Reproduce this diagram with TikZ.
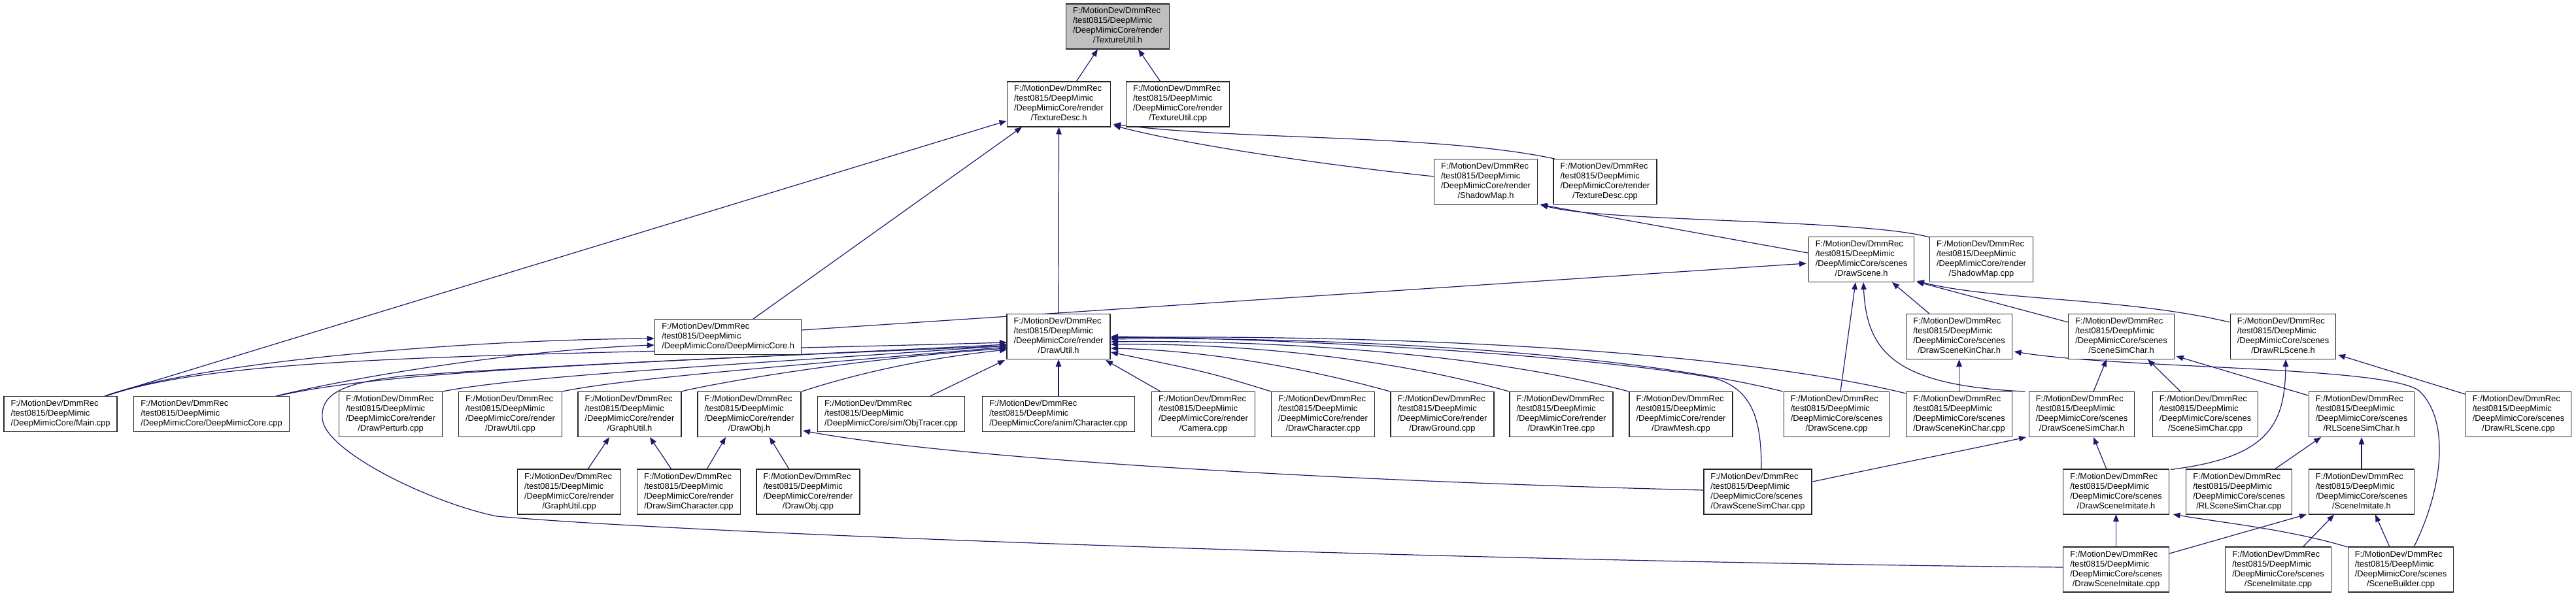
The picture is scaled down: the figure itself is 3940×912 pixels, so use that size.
\documentclass[tikz,border=0pt]{standalone}
\usepackage{fontspec}
\setmainfont{Liberation Sans}
\usetikzlibrary{arrows.meta,calc}
\pgfdeclarelayer{bg}
\pgfsetlayers{bg,main}
\definecolor{edgecol}{RGB}{25,25,112}
\definecolor{rootfill}{RGB}{191,191,191}
\newcommand{\lblf}[2]{\begin{tabular}{@{}l@{}}F:/MotionDev/DmmRec\\/test0815/DeepMimic\\#1\\\multicolumn{1}{@{}c@{}}{#2}\end{tabular}}
\newcommand{\lblt}[1]{\begin{tabular}{@{}l@{}}F:/MotionDev/DmmRec\\/test0815/DeepMimic\\#1\end{tabular}}
\tikzset{
  nd/.style={draw=black!85, line width=1.3pt, fill=white, inner xsep=10.5pt, inner ysep=4.5pt,
    font=\fontsize{12.9}{15}\selectfont},
  rootnd/.style={nd, fill=rootfill},
  edge/.style={draw=edgecol, line width=1.2pt, -{Triangle[length=11pt,width=8.5pt]}}
}
\begin{document}
\begin{tikzpicture}[x=1pt,y=-1pt]
\useasboundingbox (0,0) rectangle (3940,912);
% row 0-3
\node[rootnd] (root) at (1709.5,40.5) {\lblf{/DeepMimicCore/render}{/TextureUtil.h}};
\node[nd] (TDh) at (1619.5,159.5) {\lblf{/DeepMimicCore/render}{/TextureDesc.h}};
\node[nd] (TUcpp) at (1801.5,159.5) {\lblf{/DeepMimicCore/render}{/TextureUtil.cpp}};
\node[nd] (SMh) at (2272.5,278) {\lblf{/DeepMimicCore/render}{/ShadowMap.h}};
\node[nd] (TDcpp) at (2455,278) {\lblf{/DeepMimicCore/render}{/TextureDesc.cpp}};
\node[nd] (DSh) at (2847,397) {\lblf{/DeepMimicCore/scenes}{/DrawScene.h}};
\node[nd] (SMcpp) at (3030.5,397) {\lblf{/DeepMimicCore/render}{/ShadowMap.cpp}};
% row 4
\node[nd] (DMCh) at (1113.75,515.5) {\lblt{/DeepMimicCore/DeepMimicCore.h}};
\node[nd] (DUh) at (1619,515) {\lblf{/DeepMimicCore/render}{/DrawUtil.h}};
\node[nd] (DSKCh) at (2996.5,515) {\lblf{/DeepMimicCore/scenes}{/DrawSceneKinChar.h}};
\node[nd] (SSCh) at (3244.5,515) {\lblf{/DeepMimicCore/scenes}{/SceneSimChar.h}};
\node[nd] (DRLSh) at (3492,515) {\lblf{/DeepMimicCore/scenes}{/DrawRLScene.h}};
% row 5
\node[nd] (Maincpp) at (92.5,633.5) {\lblt{/DeepMimicCore/Main.cpp}};
\node[nd] (DMCcpp) at (323.5,633.5) {\lblt{/DeepMimicCore/DeepMimicCore.cpp}};
\node[nd] (DPcpp) at (597.5,634) {\lblf{/DeepMimicCore/render}{/DrawPerturb.cpp}};
\node[nd] (DUcpp) at (780.5,634) {\lblf{/DeepMimicCore/render}{/DrawUtil.cpp}};
\node[nd] (GUh) at (963,634) {\lblf{/DeepMimicCore/render}{/GraphUtil.h}};
\node[nd] (DOh) at (1146,634) {\lblf{/DeepMimicCore/render}{/DrawObj.h}};
\node[nd] (OTcpp) at (1363,633.5) {\lblt{/DeepMimicCore/sim/ObjTracer.cpp}};
\node[nd] (Charcpp) at (1619,633.5) {\lblt{/DeepMimicCore/anim/Character.cpp}};
\node[nd] (Camcpp) at (1840.5,634) {\lblf{/DeepMimicCore/render}{/Camera.cpp}};
\node[nd] (DCcpp) at (2023.5,634) {\lblf{/DeepMimicCore/render}{/DrawCharacter.cpp}};
\node[nd] (DGcpp) at (2206,634) {\lblf{/DeepMimicCore/render}{/DrawGround.cpp}};
\node[nd] (DKTcpp) at (2388,634) {\lblf{/DeepMimicCore/render}{/DrawKinTree.cpp}};
\node[nd] (DMcpp) at (2571,634) {\lblf{/DeepMimicCore/render}{/DrawMesh.cpp}};
\node[nd] (DScpp) at (2809,634) {\lblf{/DeepMimicCore/scenes}{/DrawScene.cpp}};
\node[nd] (DSKCcpp) at (2996.5,634) {\lblf{/DeepMimicCore/scenes}{/DrawSceneKinChar.cpp}};
\node[nd] (DSSCh) at (3184,634) {\lblf{/DeepMimicCore/scenes}{/DrawSceneSimChar.h}};
\node[nd] (SSCcpp) at (3373,634) {\lblf{/DeepMimicCore/scenes}{/SceneSimChar.cpp}};
\node[nd] (RLSSCh) at (3612,634) {\lblf{/DeepMimicCore/scenes}{/RLSceneSimChar.h}};
\node[nd] (DRLScpp) at (3852,634) {\lblf{/DeepMimicCore/scenes}{/DrawRLScene.cpp}};
% row 6
\node[nd] (GUcpp) at (870.5,752.5) {\lblf{/DeepMimicCore/render}{/GraphUtil.cpp}};
\node[nd] (DSimCcpp) at (1053.5,752.5) {\lblf{/DeepMimicCore/render}{/DrawSimCharacter.cpp}};
\node[nd] (DOcpp) at (1236,752.5) {\lblf{/DeepMimicCore/render}{/DrawObj.cpp}};
\node[nd] (DSSCcpp) at (2688.5,752.5) {\lblf{/DeepMimicCore/scenes}{/DrawSceneSimChar.cpp}};
\node[nd] (DSIh) at (3236.5,752.5) {\lblf{/DeepMimicCore/scenes}{/DrawSceneImitate.h}};
\node[nd] (RLSSCcpp) at (3424.5,752.5) {\lblf{/DeepMimicCore/scenes}{/RLSceneSimChar.cpp}};
\node[nd] (SIh) at (3612,752.5) {\lblf{/DeepMimicCore/scenes}{/SceneImitate.h}};
% row 7
\node[nd] (DSIcpp) at (3236.5,871.5) {\lblf{/DeepMimicCore/scenes}{/DrawSceneImitate.cpp}};
\node[nd] (SIcpp) at (3484.5,871.5) {\lblf{/DeepMimicCore/scenes}{/SceneImitate.cpp}};
\node[nd] (SBcpp) at (3672,871.5) {\lblf{/DeepMimicCore/scenes}{/SceneBuilder.cpp}};

\begin{pgfonlayer}{bg}
% to TextureUtil.h
\draw[edge] ($(TDh)+(26.5,-34.5)$) -- ($(root)+(-30.5,35)$);
\draw[edge] ($(TUcpp)+(-26.5,-34.5)$) -- ($(root)+(31.5,35)$);
% to TextureDesc.h
\draw[edge] ($(SMh)+(-79.5,-8)$) .. controls (2050,255) and (1830,225) .. ($(TDh)+(83.5,32.5)$);
\draw[edge] ($(TDcpp)+(-77,-35)$) .. controls (2200,205) and (1900,215) .. ($(TDh)+(83.5,30.5)$);
\draw[edge] ($(DMCh)+(38.25,-27.5)$) -- ($(TDh)+(-56.5,35)$);
\draw[edge] ($(DUh)+(0,-35)$) -- ($(TDh)+(0,35)$);
\draw[edge] ($(Maincpp)+(67.5,-27.5)$) -- ($(TDh)+(-80,25.5)$);
% to ShadowMap.h
\draw[edge] ($(DSh)+(-82,-10)$) -- ($(SMh)+(82.5,35)$);
\draw[edge] ($(SMcpp)+(-79.5,-34)$) .. controls (2850,335) and (2450,340) .. ($(SMh)+(84,35)$);
% to DrawScene.h
\draw[edge] ($(DMCh)+(112.75,-10.5)$) -- ($(DSh)+(-84,6)$);
\draw[edge] ($(DScpp)+(6,-35)$) -- ($(DSh)+(-9,35)$);
\draw[edge] ($(DSSCh)+(-87,-35)$) .. controls (2900,590) and (2855,540) .. ($(DSh)+(3,35)$);
\draw[edge] ($(DSKCh)+(-45.5,-35)$) -- ($(DSh)+(47,35)$);
\draw[edge] ($(SSCh)+(-81.5,-22)$) -- ($(DSh)+(84,34)$);
\draw[edge] ($(DRLSh)+(-82,-22)$) .. controls (3250,455) and (3050,460) .. ($(DSh)+(85,33)$);
% to DeepMimicCore.h
\draw[edge] ($(Maincpp)+(68,-27.5)$) .. controls (300,555) and (700,520) .. ($(DMCh)+(-113,2.5)$);
\draw[edge] ($(DMCcpp)+(98.5,-27.5)$) .. controls (550,575) and (800,535) .. ($(DMCh)+(-113,12.5)$);
% to DrawUtil.h, left side
\draw[edge] ($(Maincpp)+(70,-27.5)$) .. controls (350,540) and (800,545) .. ($(DUh)+(-79,9)$);
\draw[edge] ($(DMCcpp)+(101,-27.5)$) .. controls (600,565) and (1000,555) .. ($(DUh)+(-79,12)$);
\draw[edge] ($(DPcpp)+(79.5,-35)$) .. controls (800,575) and (1100,560) .. ($(DUh)+(-79,14)$);
\draw[edge] ($(DUcpp)+(79.5,-35)$) .. controls (950,580) and (1200,560) .. ($(DUh)+(-79,16)$);
\draw[edge] ($(GUh)+(79,-35)$) .. controls (1100,585) and (1300,550) .. ($(DUh)+(-79,18)$);
\draw[edge] ($(DOh)+(80,-35)$) .. controls (1300,575) and (1400,550) .. ($(DUh)+(-79,20)$);
\draw[edge] ($(DSIcpp)+(-81.5,-3.5)$) .. controls (2300,860) and (1100,820) .. (760,790)
   .. controls (660,770) and (495,690) .. (493,640)
   .. controls (490,600) and (530,585) .. (620,575)
   .. controls (900,555) and (1300,540) .. ($(DUh)+(-79,14)$);
% to DrawUtil.h, bottom
\draw[edge] ($(OTcpp)+(60,-27.5)$) -- ($(DUh)+(-82,36)$);
\draw[edge] ($(Charcpp)+(0,-27.5)$) -- ($(DUh)+(0,35)$);
\draw[edge] ($(Camcpp)+(-65.5,-35)$) -- ($(DUh)+(72,36)$);
% to DrawUtil.h, right side
\draw[edge] ($(DCcpp)+(-79.5,-35)$) .. controls (1850,570) .. ($(DUh)+(80,24)$);
\draw[edge] ($(DGcpp)+(-80,-35)$) .. controls (1950,550) and (1800,535) .. ($(DUh)+(80,18)$);
\draw[edge] ($(DKTcpp)+(-80,-35)$) .. controls (2100,540) and (1850,525) .. ($(DUh)+(80,12)$);
\draw[edge] ($(DMcpp)+(-80,-35)$) .. controls (2250,535) and (1900,520) .. ($(DUh)+(80,8)$);
\draw[edge] ($(DScpp)+(-82,-35)$) .. controls (2450,530) and (1950,515) .. ($(DUh)+(80,4)$);
\draw[edge] ($(DSKCcpp)+(-81.5,-32)$) .. controls (2600,525) and (2000,512) .. ($(DUh)+(80,2)$);
\draw[edge] ($(DSSCcpp)+(5.5,-34.5)$) .. controls (2694,640) and (2680,595) .. (2620,578)
   .. controls (2400,540) and (1950,518) .. ($(DUh)+(80,0)$);
% GraphUtil.h / DrawObj.h
\draw[edge] ($(GUcpp)+(28.5,-34.5)$) -- ($(GUh)+(-31,35)$);
\draw[edge] ($(DSimCcpp)+(-26.5,-34.5)$) -- ($(GUh)+(31,35)$);
\draw[edge] ($(DSimCcpp)+(27.5,-34.5)$) -- ($(DOh)+(-36,35)$);
\draw[edge] ($(DOcpp)+(-29,-34.5)$) -- ($(DOh)+(31,35)$);
\draw[edge] ($(DSSCcpp)+(-83.5,-2.5)$) .. controls (2000,735) and (1450,700) .. ($(DOh)+(82,25)$);
% DrawSceneKinChar.h
\draw[edge] ($(DSKCcpp)+(0,-35)$) -- ($(DSKCh)+(0,35)$);
\draw[edge] ($(SBcpp)+(20,-34.5)$) .. controls (3740,740) and (3745,640) .. (3700,598)
   .. controls (3650,560) and (3250,565) .. ($(DSKCh)+(84,23)$);
% SceneSimChar.h
\draw[edge] ($(DSSCh)+(18,-35)$) -- ($(SSCh)+(-22.5,35)$);
\draw[edge] ($(SSCcpp)+(-38,-35)$) -- ($(SSCh)+(40.5,35)$);
\draw[edge] ($(RLSSCh)+(-82,-29)$) -- ($(SSCh)+(84,30)$);
% DrawRLScene.h
\draw[edge] ($(DSIh)+(83.5,-34)$) .. controls (3470,700) and (3495,650) .. ($(DRLSh)+(4,35)$);
\draw[edge] ($(DRLScpp)+(-82,-31)$) -- ($(DRLSh)+(84,28)$);
% DrawSceneSimChar.h
\draw[edge] ($(DSSCcpp)+(84,-15.5)$) .. controls (2900,710) and (3000,690) .. ($(DSSCh)+(-85,35)$);
\draw[edge] ($(DSIh)+(-14.5,-34.5)$) -- ($(DSSCh)+(18,35)$);
% RLSceneSimChar.h
\draw[edge] ($(RLSSCcpp)+(54.5,-34.5)$) -- ($(RLSSCh)+(-62,35)$);
\draw[edge] ($(SIh)+(0,-34.5)$) -- ($(RLSSCh)+(0,35)$);
% DrawSceneImitate.h
\draw[edge] ($(DSIcpp)+(0,-34.5)$) -- ($(DSIh)+(0,34.5)$);
\draw[edge] ($(SBcpp)+(-81.5,-34.5)$) .. controls (3500,810) and (3400,800) .. ($(DSIh)+(87,34.5)$);
% SceneImitate.h
\draw[edge] ($(DSIcpp)+(81.5,-24.5)$) -- ($(SIh)+(-84,34.5)$);
\draw[edge] ($(SIcpp)+(37.5,-34.5)$) -- ($(SIh)+(-42,35)$);
\draw[edge] ($(SBcpp)+(-17,-34.5)$) -- ($(SIh)+(21,35)$);
\end{pgfonlayer}
\end{tikzpicture}
\end{document}
